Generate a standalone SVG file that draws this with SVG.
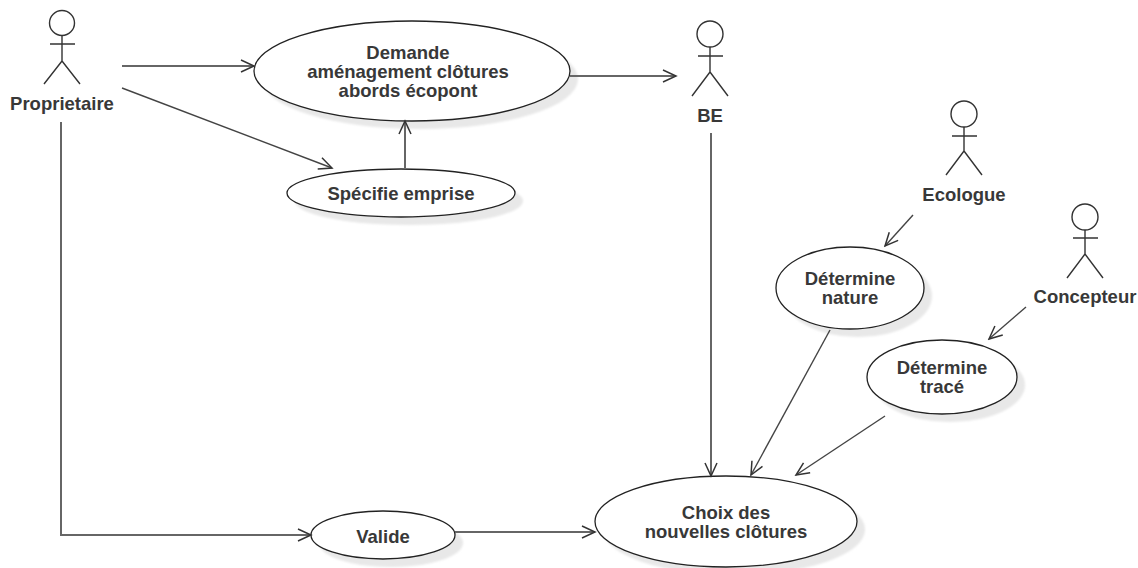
<svg xmlns="http://www.w3.org/2000/svg" width="1138" height="568" viewBox="0 0 1138 568">
<style>
text{font-family:"Liberation Sans",Arial,sans-serif;font-size:18.5px;font-weight:bold;fill:#383838;text-anchor:middle}
.u{fill:#fff;stroke:#222;stroke-width:1.3}
.s{fill:#e8e8e8;filter:url(#b)}
.a{fill:none;stroke:#333;stroke-width:1.4}
.c{fill:none;stroke:#444;stroke-width:1.4;marker-end:url(#o)}
.h{fill:none;stroke:#666;stroke-width:2;marker-end:url(#o)}
</style>
<defs>
<filter id="b" x="-10%" y="-10%" width="120%" height="120%"><feGaussianBlur stdDeviation="1.2"/></filter>
<marker id="o" markerUnits="userSpaceOnUse" markerWidth="16" markerHeight="16" refX="14" refY="7" orient="auto"><path d="M1 1L14 7L1 13" fill="none" stroke="#333" stroke-width="1.5"/></marker>
</defs>
<g id="proprietaire"><circle class="a" cx="62" cy="23" r="12.5"/><path class="a" d="M62 35V61M50 44H75M62 61L44 84M62 61L80 84"/><text x="62" y="110">Proprietaire</text></g>
<g id="be"><circle class="a" cx="710" cy="34" r="13"/><path class="a" d="M710 47V72M698 56H723M710 72L692 96M710 72L728 96"/><text x="710" y="122">BE</text></g>
<g id="ecologue"><circle class="a" cx="964" cy="114" r="13"/><path class="a" d="M964 127V151M952 136H977M964 151L946 175M964 151L982 175"/><text x="964" y="201">Ecologue</text></g>
<g id="concepteur"><circle class="a" cx="1085" cy="217" r="13"/><path class="a" d="M1085 230V254M1073 238H1098M1085 254L1067 278M1085 254L1103 278"/><text x="1085" y="303">Concepteur</text></g>
<g id="demande"><ellipse class="s" cx="420" cy="79" rx="158" ry="50"/><ellipse class="u" cx="412" cy="71" rx="158" ry="50"/><text><tspan x="408" y="58.500">Demande</tspan><tspan x="408" y="77.500">aménagement clôtures</tspan><tspan x="408" y="96.500">abords écopont</tspan></text></g>
<g id="specifie"><ellipse class="s" cx="409" cy="201" rx="114" ry="24"/><ellipse class="u" cx="401" cy="193" rx="114" ry="24"/><text x="401" y="200">Spécifie emprise</text></g>
<g id="nature"><ellipse class="s" cx="858" cy="296" rx="74" ry="41"/><ellipse class="u" cx="850" cy="288" rx="74" ry="41"/><text><tspan x="850" y="285">Détermine</tspan><tspan x="850" y="304">nature</tspan></text></g>
<g id="trace"><ellipse class="s" cx="950" cy="385" rx="75" ry="37"/><ellipse class="u" cx="942" cy="377" rx="75" ry="37"/><text><tspan x="942" y="374">Détermine</tspan><tspan x="942" y="393">tracé</tspan></text></g>
<g id="valide"><ellipse class="s" cx="391" cy="543" rx="72" ry="24"/><ellipse class="u" cx="383" cy="535" rx="72" ry="24"/><text x="383" y="543">Valide</text></g>
<g id="choix"><ellipse class="s" cx="734" cy="529.500" rx="131" ry="45.500"/><ellipse class="u" cx="726" cy="521.500" rx="131" ry="45.500"/><text><tspan x="726" y="519">Choix des</tspan><tspan x="726" y="538">nouvelles clôtures</tspan></text></g>
<g id="connectors">
<path class="h" d="M122 66H254"/>
<path class="c" d="M122 88L332 168"/>
<path class="h" d="M405 168V121"/>
<path class="h" d="M570 76H676"/>
<path class="h" d="M61 122V535H311"/>
<path class="h" d="M711 133V476"/>
<path class="c" d="M830 330L751 475"/>
<path class="c" d="M885 416L796 475"/>
<path class="h" d="M455 532H595"/>
<path class="c" d="M913 215L885 246"/>
<path class="c" d="M1026 307L989 339"/>
</g>
</svg>
